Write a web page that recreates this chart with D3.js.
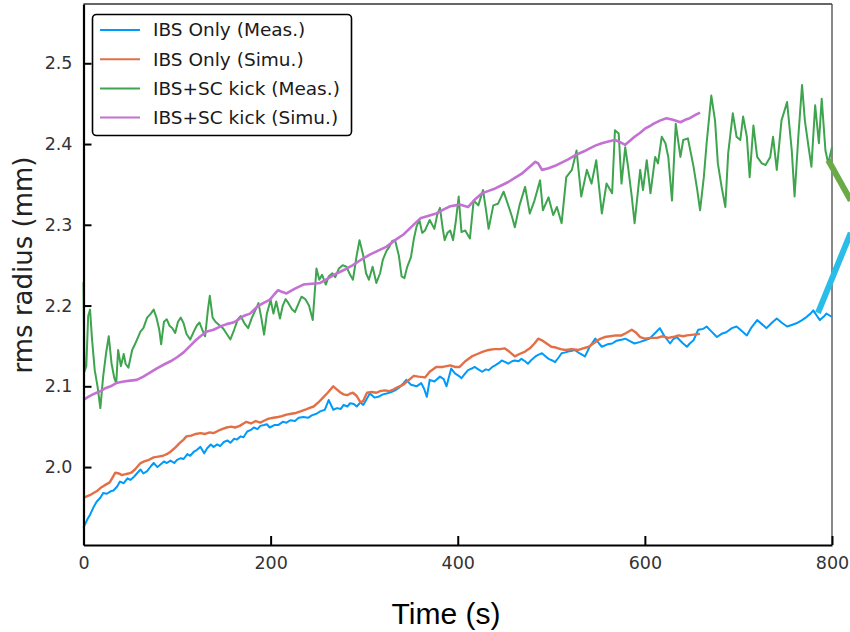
<!DOCTYPE html>
<html>
<head>
<meta charset="utf-8">
<script src="https://cdn.jsdelivr.net/npm/d3@7"></script>
<style>
  body { margin: 0; background: #fff; }
  text { font-family: "DejaVu Sans", sans-serif; }
</style>
</head>
<body>
<div id="chart"></div>
<script>
// values, [time (s), rms radius (mm)]
const ibsOnlyMeas = [[0,1.925],[4,1.935],[7,1.941],[11,1.951],[14,1.957],[18,1.962],[21,1.968],[25,1.967],[29,1.970],[32,1.971],[36,1.976],[39,1.982],[43,1.980],[47,1.986],[50,1.984],[54,1.988],[57,1.992],[61,1.997],[64,1.992],[68,1.995],[72,2.001],[75,2.005],[79,2.000],[82,2.003],[86,2.007],[89,2.005],[93,2.008],[97,2.005],[100,2.009],[104,2.011],[107,2.010],[111,2.016],[114,2.014],[118,2.019],[121,2.021],[125,2.025],[129,2.017],[132,2.023],[136,2.028],[139,2.025],[143,2.028],[146,2.026],[150,2.031],[154,2.033],[157,2.030],[161,2.035],[164,2.034],[168,2.038],[171,2.037],[175,2.044],[179,2.046],[182,2.049],[186,2.047],[189,2.051],[193,2.052],[196,2.053],[199,2.049],[204,2.052],[208,2.052],[213,2.056],[217,2.055],[221,2.058],[226,2.057],[230,2.061],[235,2.062],[240,2.061],[244,2.064],[249,2.066],[253,2.069],[258,2.071],[262,2.083],[267,2.071],[271,2.073],[275,2.072],[278,2.077],[282,2.075],[285,2.079],[289,2.078],[292,2.075],[296,2.080],[299,2.077],[303,2.085],[306,2.091],[311,2.086],[315,2.087],[320,2.090],[324,2.091],[329,2.093],[333,2.095],[338,2.099],[342,2.104],[345,2.108],[350,2.102],[356,2.100],[361,2.104],[364,2.097],[367,2.087],[370,2.108],[375,2.106],[381,2.112],[385,2.109],[388,2.100],[393,2.122],[397,2.116],[401,2.113],[404,2.110],[408,2.116],[411,2.120],[415,2.122],[418,2.124],[422,2.121],[426,2.118],[430,2.121],[433,2.120],[437,2.124],[440,2.126],[444,2.129],[447,2.132],[451,2.130],[454,2.128],[458,2.131],[461,2.132],[465,2.131],[468,2.134],[472,2.131],[475,2.128],[479,2.133],[483,2.137],[486,2.139],[490,2.141],[494,2.137],[497,2.134],[501,2.132],[504,2.130],[508,2.136],[511,2.141],[515,2.142],[518,2.143],[522,2.144],[525,2.145],[530,2.141],[536,2.137],[541,2.149],[547,2.159],[551,2.153],[554,2.149],[560,2.152],[565,2.153],[569,2.156],[572,2.157],[576,2.158],[579,2.159],[584,2.156],[589,2.153],[595,2.155],[600,2.157],[605,2.159],[611,2.166],[616,2.172],[621,2.162],[627,2.153],[630,2.158],[634,2.161],[640,2.154],[645,2.149],[648,2.153],[652,2.157],[657,2.170],[662,2.171],[666,2.174],[671,2.168],[677,2.161],[682,2.165],[687,2.167],[693,2.172],[698,2.174],[703,2.169],[709,2.163],[714,2.173],[720,2.182],[725,2.177],[730,2.172],[736,2.179],[741,2.184],[746,2.179],[752,2.174],[757,2.176],[762,2.178],[768,2.182],[773,2.186],[777,2.190],[780,2.194],[784,2.187],[787,2.182],[791,2.186],[794,2.190],[797,2.188],[800,2.186]];

const ibsOnlySimu = [[0,1.962],[4,1.964],[8,1.966],[14,1.970],[18,1.974],[22,1.977],[28,1.981],[31,1.987],[34,1.993],[38,1.992],[41,1.990],[44,1.991],[48,1.992],[51,1.993],[55,1.997],[58,2.001],[61,2.005],[65,2.007],[70,2.009],[75,2.012],[80,2.013],[85,2.014],[89,2.016],[93,2.019],[98,2.024],[103,2.030],[107,2.034],[110,2.038],[115,2.039],[120,2.041],[125,2.042],[130,2.041],[135,2.043],[139,2.042],[144,2.045],[148,2.047],[153,2.049],[158,2.050],[162,2.049],[167,2.051],[171,2.054],[174,2.056],[179,2.054],[184,2.057],[189,2.055],[194,2.058],[198,2.060],[203,2.061],[208,2.062],[212,2.063],[217,2.065],[222,2.066],[227,2.067],[232,2.069],[237,2.071],[241,2.073],[246,2.075],[251,2.080],[256,2.086],[261,2.092],[264,2.096],[267,2.100],[271,2.096],[275,2.092],[278,2.090],[282,2.089],[285,2.091],[288,2.092],[292,2.088],[296,2.080],[299,2.082],[303,2.092],[308,2.093],[313,2.092],[317,2.094],[322,2.095],[327,2.094],[331,2.096],[336,2.099],[342,2.102],[347,2.107],[353,2.113],[358,2.112],[365,2.111],[370,2.118],[377,2.124],[384,2.124],[392,2.126],[397,2.124],[402,2.124],[408,2.131],[415,2.137],[421,2.140],[427,2.143],[433,2.145],[439,2.146],[445,2.146],[450,2.147],[455,2.143],[461,2.137],[466,2.140],[472,2.143],[477,2.147],[482,2.153],[486,2.159],[490,2.157],[495,2.153],[500,2.149],[505,2.148],[510,2.146],[515,2.145],[522,2.146],[529,2.145],[534,2.147],[540,2.149],[546,2.154],[551,2.158],[557,2.161],[563,2.162],[569,2.163],[575,2.163],[580,2.166],[586,2.170],[590,2.167],[595,2.161],[600,2.159],[606,2.160],[613,2.160],[619,2.162],[625,2.160],[630,2.161],[636,2.163],[641,2.162],[645,2.163],[652,2.164],[659,2.165]];

const scKickMeas = [[0,2.229],[1,2.118],[3,2.125],[5,2.187],[7,2.195],[9,2.160],[12,2.120],[15,2.100],[18,2.073],[21,2.112],[24,2.140],[27,2.162],[30,2.128],[33,2.110],[35,2.104],[37,2.145],[40,2.125],[43,2.140],[45,2.128],[48,2.123],[52,2.145],[55,2.152],[58,2.160],[61,2.168],[64,2.172],[68,2.185],[72,2.190],[75,2.195],[78,2.185],[81,2.170],[83,2.152],[86,2.180],[89,2.183],[92,2.175],[95,2.172],[98,2.166],[101,2.180],[104,2.185],[107,2.178],[110,2.165],[114,2.158],[118,2.168],[121,2.175],[124,2.179],[127,2.170],[130,2.162],[133,2.195],[135,2.212],[138,2.185],[141,2.180],[145,2.176],[149,2.172],[153,2.165],[157,2.158],[161,2.170],[165,2.183],[168,2.187],[172,2.178],[176,2.172],[180,2.185],[184,2.195],[187,2.203],[190,2.185],[193,2.164],[196,2.190],[200,2.207],[203,2.190],[206,2.205],[210,2.184],[213,2.200],[216,2.208],[219,2.203],[223,2.195],[226,2.192],[230,2.203],[233,2.211],[237,2.208],[241,2.200],[245,2.182],[249,2.246],[252,2.232],[255,2.238],[259,2.226],[262,2.236],[266,2.240],[269,2.235],[273,2.246],[277,2.250],[281,2.248],[285,2.238],[288,2.232],[292,2.262],[295,2.281],[299,2.262],[302,2.240],[305,2.232],[309,2.248],[313,2.228],[317,2.240],[320,2.257],[324,2.268],[327,2.273],[330,2.280],[333,2.281],[337,2.262],[340,2.236],[343,2.234],[346,2.248],[350,2.260],[353,2.282],[356,2.298],[359,2.306],[362,2.290],[365,2.293],[370,2.306],[375,2.295],[378,2.312],[381,2.321],[384,2.295],[386,2.281],[389,2.290],[392,2.293],[395,2.281],[398,2.305],[401,2.335],[404,2.291],[408,2.293],[413,2.283],[417,2.330],[422,2.324],[427,2.343],[430,2.320],[433,2.295],[438,2.324],[443,2.326],[449,2.341],[454,2.324],[458,2.310],[461,2.297],[466,2.324],[472,2.347],[477,2.314],[482,2.330],[488,2.355],[491,2.318],[497,2.334],[502,2.312],[506,2.322],[511,2.302],[516,2.359],[522,2.368],[527,2.392],[532,2.335],[538,2.368],[543,2.351],[548,2.380],[554,2.314],[559,2.351],[565,2.339],[568,2.417],[572,2.413],[575,2.351],[579,2.396],[582,2.372],[586,2.335],[589,2.302],[595,2.368],[598,2.343],[602,2.380],[606,2.339],[611,2.384],[614,2.376],[618,2.409],[622,2.401],[625,2.384],[629,2.330],[633,2.425],[638,2.384],[641,2.405],[646,2.407],[652,2.372],[656,2.343],[659,2.318],[663,2.359],[666,2.401],[671,2.460],[675,2.429],[678,2.376],[682,2.347],[686,2.322],[689,2.388],[694,2.438],[698,2.409],[702,2.405],[705,2.434],[709,2.409],[712,2.359],[716,2.423],[720,2.384],[725,2.376],[729,2.374],[734,2.384],[737,2.409],[741,2.368],[746,2.429],[752,2.452],[757,2.392],[760,2.335],[764,2.409],[768,2.473],[771,2.429],[775,2.396],[778,2.372],[782,2.448],[786,2.401],[789,2.456],[793,2.392],[796,2.376],[800,2.396]];

const scKickSimu = [[0,2.083],[5,2.087],[10,2.090],[14,2.092],[18,2.094],[24,2.098],[29,2.100],[35,2.104],[43,2.106],[50,2.107],[57,2.108],[64,2.112],[71,2.117],[78,2.122],[86,2.127],[93,2.131],[100,2.136],[107,2.142],[114,2.150],[120,2.157],[125,2.162],[132,2.168],[139,2.170],[146,2.174],[153,2.177],[160,2.179],[166,2.183],[171,2.187],[178,2.190],[186,2.199],[192,2.203],[199,2.207],[204,2.214],[208,2.219],[212,2.217],[217,2.215],[226,2.221],[235,2.226],[244,2.227],[253,2.228],[262,2.234],[271,2.240],[280,2.245],[288,2.250],[297,2.257],[306,2.263],[315,2.268],[324,2.273],[333,2.281],[342,2.288],[351,2.298],[360,2.308],[368,2.311],[377,2.314],[385,2.319],[392,2.323],[402,2.325],[411,2.322],[418,2.331],[426,2.339],[433,2.342],[440,2.345],[447,2.349],[454,2.353],[461,2.358],[468,2.363],[476,2.371],[483,2.378],[486,2.376],[490,2.368],[497,2.370],[504,2.373],[511,2.377],[518,2.381],[524,2.385],[529,2.388],[535,2.391],[540,2.394],[547,2.398],[554,2.401],[561,2.403],[568,2.405],[574,2.402],[579,2.399],[584,2.404],[589,2.409],[595,2.414],[600,2.419],[605,2.422],[609,2.425],[616,2.429],[623,2.432],[630,2.430],[638,2.427],[643,2.430],[648,2.432],[654,2.436],[659,2.439]];

const seriesNames = ["IBS Only (Meas.)", "IBS Only (Simu.)", "IBS+SC kick (Meas.)", "IBS+SC kick (Simu.)"];
const seriesColors = ["#009AFA", "#E36F47", "#3EA44E", "#C371D2"];
const xTicks = [0, 200, 400, 600, 800];
const yTicks = [2.0, 2.1, 2.2, 2.3, 2.4, 2.5];

// zoom connectors that leave the frame on the right
const greenConnector = [[796, 2.380], [820, 2.330]];
const blueConnector = [[785, 2.191], [820, 2.290]];

const width = 850, height = 632;
const plotLeft = 83.5, plotRight = 832, plotTop = 4, plotBottom = 545;

const svg = d3.select("#chart").append("svg")
  .attr("width", width)
  .attr("height", height);

const x = d3.scaleLinear().domain([0, 800]).range([plotLeft, plotRight]);
const y = d3.scaleLinear().domain([1.9035, 2.5734]).range([plotBottom, plotTop]);

const line = d3.line().x(d => x(d[0])).y(d => y(d[1]));

// frame, top and right sides thinner
svg.append("line").attr("x1", plotLeft).attr("x2", plotRight).attr("y1", plotTop).attr("y2", plotTop)
  .attr("stroke", "#333").attr("stroke-width", 1.6);
svg.append("line").attr("x1", plotRight).attr("x2", plotRight).attr("y1", plotTop).attr("y2", plotBottom)
  .attr("stroke", "#555").attr("stroke-width", 1.4);

const data = [ibsOnlyMeas, ibsOnlySimu, scKickMeas, scKickSimu];
const widths = [2, 2.4, 2, 2.6];

svg.append("g").selectAll("path")
  .data(data)
  .enter()
  .append("path")
  .attr("d", line)
  .attr("fill", "none")
  .attr("stroke", (d, i) => seriesColors[i])
  .attr("stroke-width", (d, i) => widths[i])
  .attr("stroke-linejoin", "round");

svg.append("path").attr("d", line(greenConnector))
  .attr("stroke", "#6aab47").attr("stroke-width", 6).attr("fill", "none");
svg.append("path").attr("d", line(blueConnector))
  .attr("stroke", "#29bde8").attr("stroke-width", 6).attr("fill", "none");

const xAxis = svg.append("g")
  .attr("transform", `translate(0,${plotBottom})`)
  .call(d3.axisBottom(x).tickValues(xTicks).tickFormat(d3.format("d"))
    .tickSizeInner(-9).tickSizeOuter(0).tickPadding(12));

const yAxis = svg.append("g")
  .attr("transform", `translate(${plotLeft},0)`)
  .call(d3.axisLeft(y).tickValues(yTicks).tickFormat(d3.format(".1f"))
    .tickSizeInner(-8).tickSizeOuter(0).tickPadding(11));

[xAxis, yAxis].forEach(g => {
  g.select(".domain").attr("stroke", "#000").attr("stroke-width", 2.2);
  g.selectAll(".tick line").attr("stroke", "#000").attr("stroke-width", 2);
  g.selectAll(".tick text")
    .attr("fill", "#333")
    .style("font-family", "DejaVu Sans")
    .style("font-size", "17.5px");
});

// axis titles
svg.append("text")
  .attr("transform", "translate(32,265) rotate(-90)")
  .attr("text-anchor", "middle")
  .style("font-size", "26px")
  .attr("fill", "#222")
  .text("rms radius (mm)");

svg.append("text")
  .attr("x", 446)
  .attr("y", 624)
  .attr("text-anchor", "middle")
  .style("font-family", "Liberation Sans, Arial, sans-serif")
  .style("font-size", "30px")
  .attr("fill", "#000")
  .text("Time (s)");

// legend
const legend = svg.append("g");
legend.append("rect")
  .attr("x", 92.5).attr("y", 14.5)
  .attr("width", 259).attr("height", 121)
  .attr("rx", 4)
  .attr("fill", "#fff")
  .attr("stroke", "#000")
  .attr("stroke-width", 1.6);

const rows = legend.selectAll("g.row")
  .data(seriesNames)
  .enter()
  .append("g")
  .attr("transform", (d, i) => `translate(0,${30 + i * 29.2})`);
rows.append("line")
  .attr("x1", 100).attr("x2", 140)
  .attr("stroke", (d, i) => seriesColors[i])
  .attr("stroke-width", 2);
rows.append("text")
  .attr("x", 153)
  .attr("dy", "0.35em")
  .style("font-size", "18.5px")
  .attr("fill", "#1a1a1a")
  .text(d => d);
</script>
</body>
</html>
